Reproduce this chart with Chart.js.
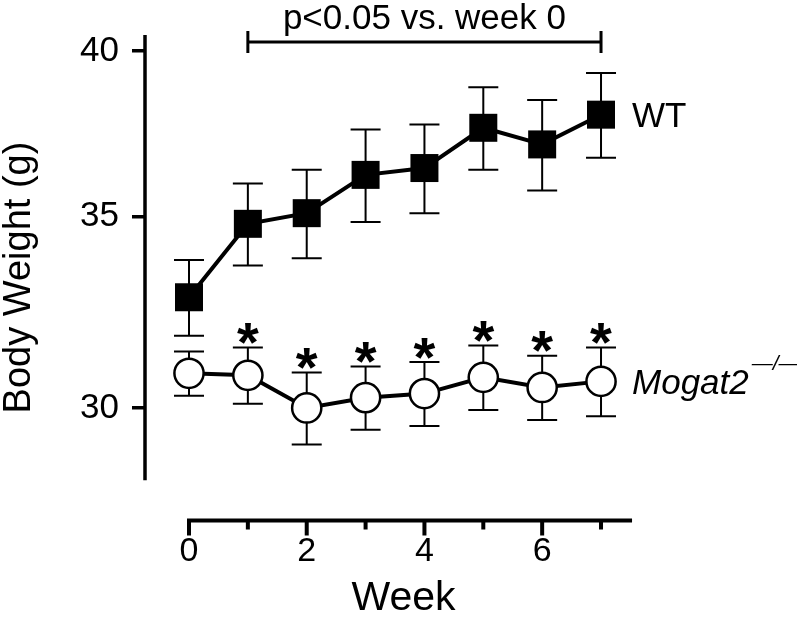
<!DOCTYPE html>
<html>
<head>
<meta charset="utf-8">
<script src="https://cdn.jsdelivr.net/npm/chart.js@4"></script>
<style>
  body { margin: 0; background: #fff; }
  canvas { display: block; }
</style>
</head>
<body>
<canvas id="bw" width="797" height="619"></canvas>
<script>
const weeks = [0, 1, 2, 3, 4, 5, 6, 7];
const wtMean = [32.8, 34.8, 35.1, 36.2, 36.4, 37.6, 37.1, 38.0];
const wtSem = [1.0, 1.15, 1.25, 1.35, 1.3, 1.25, 1.35, 1.3];
const koMean = [30.85, 30.8, 30.0, 30.25, 30.35, 30.75, 30.5, 30.65];
const koSem = [0.55, 0.7, 0.87, 0.77, 0.78, 0.8, 0.79, 0.85];
const koSig = [false, true, true, true, true, true, true, true];
const yTicks = [30, 35, 40];
const xTicks = [0, 1, 2, 3, 4, 5, 6, 7];
const FONT = '"Liberation Sans", Arial, sans-serif';

// extra drawing: error bars, axis lines, bracket, asterisks, series labels
const deco = {
    id: 'deco',
    beforeDatasetsDraw(chart) {
        const { ctx, scales: { x, y } } = chart;
        ctx.save();
        ctx.strokeStyle = '#000';
        ctx.lineWidth = 2;
        [[wtMean, wtSem], [koMean, koSem]].forEach(([m, s]) => {
            weeks.forEach((w, i) => {
                const px = x.getPixelForValue(w);
                const top = y.getPixelForValue(m[i] + s[i]);
                const bot = y.getPixelForValue(m[i] - s[i]);
                ctx.beginPath();
                ctx.moveTo(px, top); ctx.lineTo(px, bot);
                ctx.moveTo(px - 15, top); ctx.lineTo(px + 15, top);
                ctx.moveTo(px - 15, bot); ctx.lineTo(px + 15, bot);
                ctx.stroke();
            });
        });
        ctx.restore();
    },
    afterDraw(chart) {
        const { ctx, chartArea, scales: { x, y } } = chart;
        ctx.save();
        ctx.strokeStyle = '#000';
        ctx.fillStyle = '#000';

        // y axis line
        ctx.lineWidth = 3.5;
        ctx.beginPath();
        ctx.moveTo(chartArea.left, chartArea.top);
        ctx.lineTo(chartArea.left, y.getPixelForValue(28.3));
        ctx.stroke();

        // x axis line + ticks
        const ay = chartArea.bottom + 0.5;
        ctx.lineWidth = 4;
        ctx.beginPath();
        ctx.moveTo(x.getPixelForValue(0) - 2, ay);
        ctx.lineTo(x.getPixelForValue(7.527), ay);
        xTicks.forEach(t => {
            const px = x.getPixelForValue(t);
            ctx.moveTo(px, ay);
            ctx.lineTo(px, ay + (t % 2 === 0 ? 15 : 9));
        });
        ctx.stroke();

        // significance bracket
        const x1 = x.getPixelForValue(1), x7 = x.getPixelForValue(7);
        const by = chartArea.top + 7;
        ctx.lineWidth = 3;
        ctx.beginPath();
        ctx.moveTo(x1, by); ctx.lineTo(x7, by);
        ctx.moveTo(x1, by - 11); ctx.lineTo(x1, by + 11);
        ctx.moveTo(x7, by - 11); ctx.lineTo(x7, by + 11);
        ctx.stroke();
        ctx.font = '35px ' + FONT;
        ctx.textAlign = 'center';
        ctx.textBaseline = 'alphabetic';
        ctx.fillText('p<0.05 vs. week 0', (x1 + x7) / 2, 29);

        // asterisks above knockout error bars
        ctx.font = 'bold 56px ' + FONT;
        const am = ctx.measureText('*');
        const aOff = (am.actualBoundingBoxAscent - am.actualBoundingBoxDescent) / 2;
        weeks.forEach((w, i) => {
            if (!koSig[i]) return;
            const cy = y.getPixelForValue(koMean[i] + koSem[i]) - 14;
            ctx.fillText('*', x.getPixelForValue(w), cy + aOff);
        });

        // series labels
        ctx.textAlign = 'left';
        const lx = x.getPixelForValue(7) + 31;
        ctx.font = '35px ' + FONT;
        ctx.fillText('WT', lx, y.getPixelForValue(wtMean[7]) + 12.5);
        ctx.font = 'italic 35px ' + FONT;
        const ky = y.getPixelForValue(koMean[7]) + 13;
        ctx.fillText('Mogat2', lx, ky);
        const kw = ctx.measureText('Mogat2').width;
        ctx.font = 'italic 21px ' + FONT;
        ctx.fillText('\u2014/\u2014', lx + kw + 3, ky - 24);
        ctx.restore();
    }
};

new Chart(document.getElementById('bw'), {
    type: 'line',
    data: {
        datasets: [{
            label: 'WT',
            data: weeks.map((w, i) => ({ x: w, y: wtMean[i] })),
            borderColor: '#000',
            borderWidth: 4,
            pointStyle: 'rect',
            pointRadius: 19.8,
            pointBackgroundColor: '#000',
            pointBorderWidth: 0
        }, {
            label: 'Mogat2-/-',
            data: weeks.map((w, i) => ({ x: w, y: koMean[i] })),
            borderColor: '#000',
            borderWidth: 4,
            pointStyle: 'circle',
            pointRadius: 14.6,
            pointBackgroundColor: '#fff',
            pointBorderColor: '#000',
            pointBorderWidth: 2.5
        }]
    },
    options: {
        responsive: false,
        animation: false,
        layout: { padding: { top: 35, right: 135, left: 0, bottom: 0 } },
        plugins: { legend: { display: false }, tooltip: { enabled: false } },
        scales: {
            x: {
                type: 'linear',
                min: -0.7476,
                max: 8.036,
                afterBuildTicks: s => { s.ticks = xTicks.map(v => ({ value: v })); },
                afterFit: s => { s.height = 99; },
                grid: { display: false, drawTicks: false },
                border: { display: false },
                ticks: {
                    padding: 11,
                    color: '#000',
                    font: { family: FONT, size: 34 },
                    callback: v => (v % 2 === 0 ? String(v) : '')
                },
                title: {
                    display: true,
                    text: 'Week',
                    color: '#000',
                    font: { family: FONT, size: 41, lineHeight: 1 },
                    padding: { top: 0, bottom: 0 }
                }
            },
            y: {
                type: 'logarithmic',
                min: 27.41,
                max: 40.52,
                afterBuildTicks: s => { s.ticks = yTicks.map(v => ({ value: v })); },
                afterFit: s => { s.width = 145; },
                grid: {
                    drawOnChartArea: false,
                    drawTicks: true,
                    tickLength: 13,
                    lineWidth: 3.5,
                    color: '#000'
                },
                border: { display: false },
                ticks: {
                    padding: 13,
                    autoSkip: false,
                    color: '#000',
                    font: { family: FONT, size: 35 },
                    callback: v => String(v)
                },
                title: {
                    display: true,
                    text: 'Body Weight (g)',
                    color: '#000',
                    font: { family: FONT, size: 38, lineHeight: 1 },
                    padding: { top: 1, bottom: 0 }
                }
            }
        }
    },
    plugins: [deco]
});
</script>
</body>
</html>
